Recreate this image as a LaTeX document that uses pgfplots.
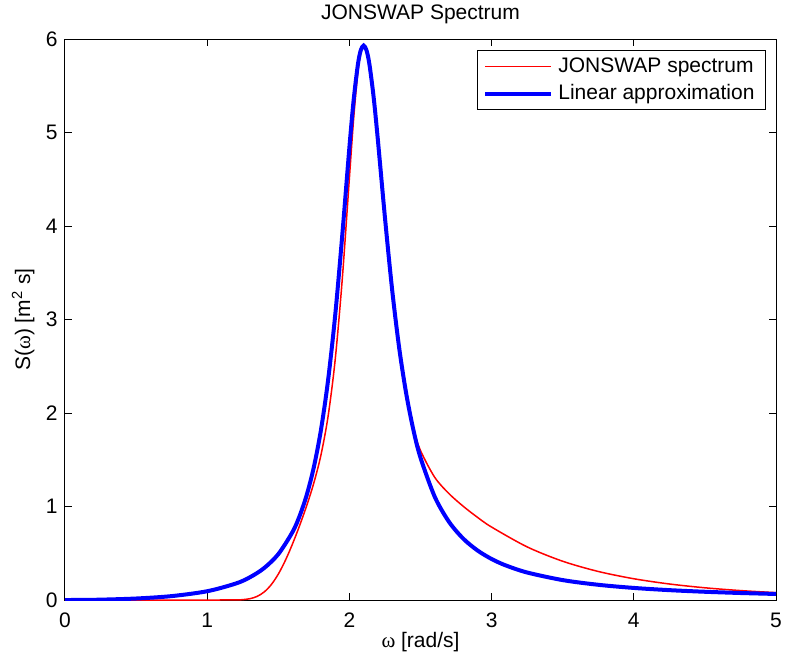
\documentclass[border=0pt]{standalone}
\usepackage{pgfplots}
\pgfplotsset{compat=1.18}
\usepackage{pgfplotstable}
\usepackage{fontspec}
\setmainfont{Liberation Sans}
\newfontfamily\serifw{Liberation Serif}
\pgfplotstableread{
w S
0 0
0.5 0
1.0 0
1.2 0.0008
1.25 0.0040
1.3 0.0139
1.35 0.0379
1.4 0.0851
1.45 0.1633
1.5 0.2769
1.55 0.4246
1.6 0.6001
1.65 0.7965
1.7 1.0107
1.75 1.2528
1.8 1.5514
1.85 1.9639
1.9 2.5693
1.95 3.4355
2.0 4.515
2.03 5.152
2.06 5.653
2.08 5.856
2.10 5.926
2.12 5.882
2.14 5.752
2.17 5.419
2.2 4.969
2.25 4.110
2.3 3.300
2.35 2.648
2.4 2.168
2.45 1.831
2.5 1.598
2.6 1.312
2.7 1.138
2.8 1.003
2.9 0.885
3.0 0.780
3.25 0.568
3.5 0.4145
3.75 0.3053
4.0 0.2274
4.25 0.1714
4.5 0.1307
4.75 0.1009
5.0 0.0788
}\jonswap
\pgfplotstableread{
w S
0 0
0.1 0.0006
0.25 0.0037
0.5 0.0160
0.75 0.0418
1.0 0.0939
1.2 0.1757
1.3 0.2429
1.4 0.3412
1.5 0.4905
1.6 0.7276
1.65 0.8993
1.7 1.124
1.75 1.4217
1.8 1.819
1.85 2.350
1.9 3.044
1.95 3.904
2.0 4.842
2.03 5.350
2.06 5.730
2.08 5.880
2.10 5.930
2.12 5.880
2.14 5.737
2.17 5.384
2.2 4.924
2.25 4.090
2.3 3.326
2.35 2.697
2.4 2.203
2.45 1.819
2.5 1.522
2.6 1.1045
2.7 0.8370
2.8 0.6570
2.9 0.5307
3.0 0.4386
3.1 0.3697
3.25 0.2941
3.5 0.2130
3.75 0.1628
4.0 0.1292
4.25 0.1055
4.5 0.0882
4.75 0.0750
5.0 0.0647
}\linapprox
\begin{document}
\fontsize{10.5}{12}\selectfont
\begin{tikzpicture}
\path[use as bounding box] (-32.5pt,-30pt) rectangle (360pt,300pt);
\begin{axis}[
  at={(0,0)}, anchor=south west,
  scale only axis, width=355.5pt, height=280.5pt,
  xmin=0, xmax=5, ymin=0, ymax=6,
  xtick={0,1,2,3,4,5}, ytick={0,1,2,3,4,5,6},
  tick align=inside, major tick length=3.5pt,
  axis line style={line width=0.5pt},
  every tick/.style={black, line width=0.5pt},
  /pgf/number format/assume math mode=true,
  ticklabel style={font=\fontsize{10.5}{12}\selectfont},
  xticklabel style={anchor=base, yshift=-13.5pt},
  yticklabel style={anchor=east, xshift=-0pt},
  title={JONSWAP Spectrum},
  title style={at={(axis description cs:0.5,1)}, anchor=base, yshift=4pt, font=\fontsize{10.5}{12}\selectfont},
  xlabel={{\serifw ω} [rad/s]},
  xlabel style={at={(axis description cs:0.5,0)}, anchor=base, yshift=-23.5pt, font=\fontsize{10.5}{12}\selectfont},
  ylabel={S({\serifw ω}) [m\textsuperscript{2} s]},
  ylabel style={at={(axis description cs:-0.0492,0.5)}, anchor=base, font=\fontsize{10.5}{12}\selectfont},
  legend cell align=left,
  legend image code/.code={\draw[#1] (0pt,0pt) -- (33pt,0pt);},
  legend style={at={(axis description cs:1,1)}, anchor=north east, xshift=-5pt, yshift=-5.5pt,
    draw=black, line width=0.5pt, inner xsep=3pt, inner ysep=1pt, row sep=-0.5pt,
    font=\fontsize{10.5}{12}\selectfont, nodes={inner sep=2.5pt}},
]
\addplot[red, line width=0.75pt, smooth] table[x=w, y=S] {\jonswap};
\addlegendentry{JONSWAP spectrum}
\addplot[blue, line width=2pt, smooth] table[x=w, y=S] {\linapprox};
\addlegendentry{Linear approximation}
\end{axis}
\end{tikzpicture}
\end{document}
